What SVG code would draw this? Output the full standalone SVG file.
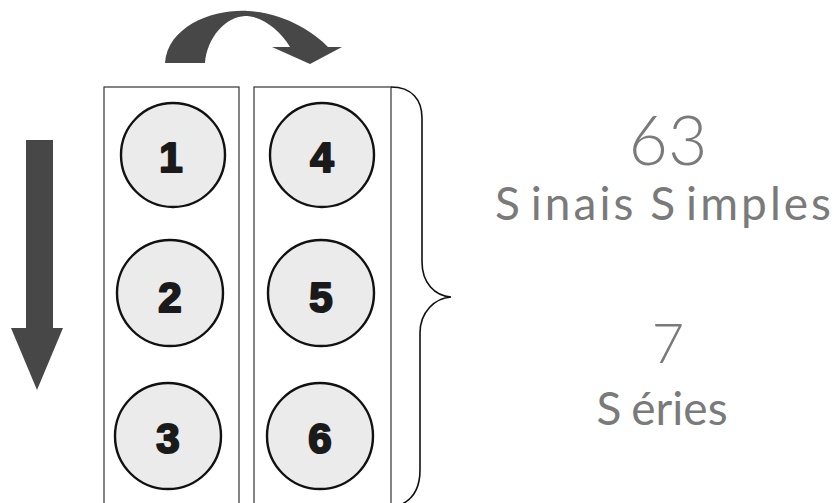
<svg xmlns="http://www.w3.org/2000/svg" width="838" height="503" viewBox="0 0 838 503">
<style>
.col{fill:none;stroke:#333;stroke-width:1.2}
.ball{fill:#ebebeb;stroke:#111;stroke-width:2.4}
.num{font-family:"Liberation Sans",Arial,sans-serif;font-weight:bold;font-size:42px;fill:#1a1a1a;stroke:#1a1a1a;stroke-width:2.2;stroke-linejoin:round;text-anchor:middle}
.big{font-family:Lato,"Open Sans",sans-serif;fill:#7a7a7a;text-anchor:middle}
.arrow{fill:#474747}
</style>
<rect width="838" height="503" fill="#fff"/>
<g id="col-left"><rect class="col" x="104" y="87" width="135" height="430"/></g>
<g id="col-right"><rect class="col" x="254" y="87" width="137" height="430"/></g>
<g id="ball1"><circle class="ball" cx="173" cy="155" r="52"/><text class="num" x="171" y="172">1</text></g>
<g id="ball2"><circle class="ball" cx="170" cy="293" r="53"/><text class="num" x="170" y="312">2</text></g>
<g id="ball3"><circle class="ball" cx="168" cy="436" r="53"/><text class="num" x="168" y="453">3</text></g>
<g id="ball4"><circle class="ball" cx="322" cy="155" r="52"/><text class="num" x="322" y="172">4</text></g>
<g id="ball5"><circle class="ball" cx="321" cy="293" r="53"/><text class="num" x="321" y="312">5</text></g>
<g id="ball6"><circle class="ball" cx="320" cy="436" r="53"/><text class="num" x="320" y="453">6</text></g>
<g id="connectors">
<path class="arrow" d="M165,63 C168,25 215,9 248,11 C285,13 315,33 328,47 L342,47 L310,64 L272,47 L290,47 C280,30 262,16 245,16 C225,17 207,38 205,63 Z"/>
<path class="arrow" d="M26,140 L53,140 L53,328 L63,328 L37,390 L11,328 L26,328 Z"/>
<path d="M391,87 C412,87 422,100 422,118 L422,262 C422,283 435,296 451,297 C435,298 420,312 420,333 L420,470 C420,490 412,500 400,505" fill="none" stroke="#111" stroke-width="1.6"/>
</g>
<g id="label-63">
<text class="big" x="668" y="165" font-size="68" font-weight="300">63</text>
<text class="big" x="663" y="220" font-size="46" textLength="336" lengthAdjust="spacing">S<tspan dx="8">inais</tspan><tspan dx="14">S</tspan><tspan dx="8">imples</tspan></text>
</g>
<g id="label-7">
<text class="big" x="668" y="363" font-size="56" font-weight="300">7</text>
<text class="big" x="662" y="425" font-size="46">S<tspan dx="10">éries</tspan></text>
</g>
</svg>
